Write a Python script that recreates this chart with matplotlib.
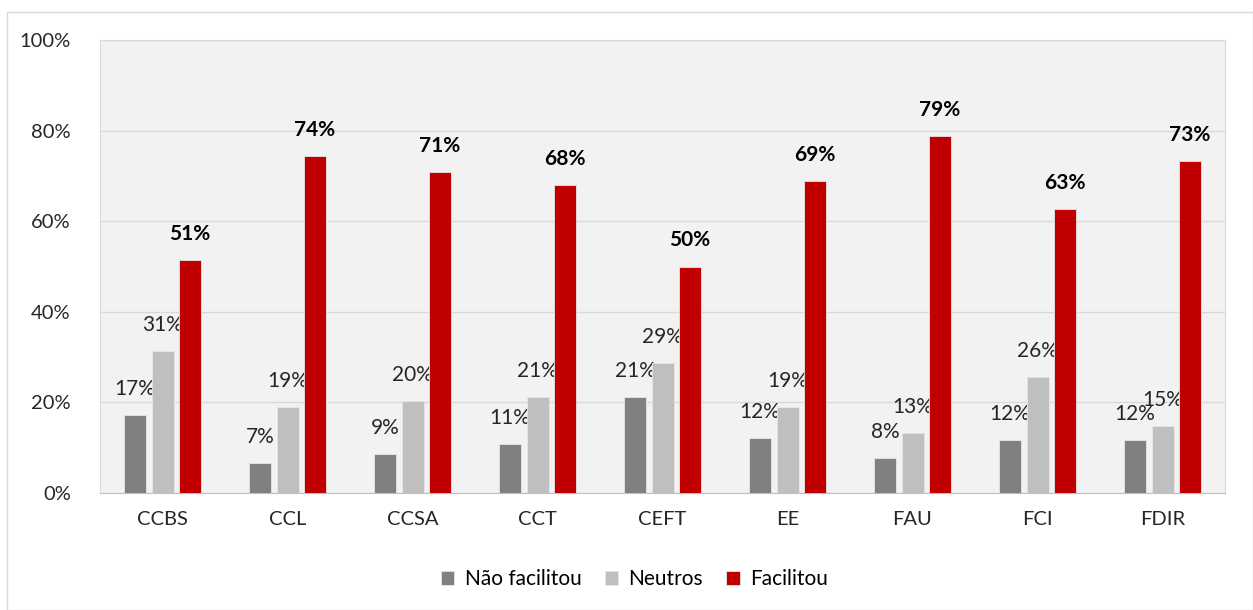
import numpy as np
import matplotlib.pyplot as plt
from matplotlib.patches import Rectangle

plt.rcParams['font.family'] = ['Lato', 'DejaVu Sans']

categories = ['CCBS', 'CCL', 'CCSA', 'CCT', 'CEFT', 'EE', 'FAU', 'FCI', 'FDIR']
nao_facilitou = [17.2, 6.6, 8.6, 10.8, 21.3, 12.1, 7.8, 11.6, 11.8]
neutros = [31.3, 19.0, 20.2, 21.1, 28.6, 18.9, 13.3, 25.5, 14.7]
facilitou = [51.4, 74.3, 70.9, 68.1, 50.0, 68.8, 78.8, 62.8, 73.3]
series_names = ['Não facilitou', 'Neutros', 'Facilitou']
colors = ['#808080', '#bfbfbf', '#c00000']

fig = plt.figure(figsize=(12.53, 6.10), dpi=100)
fig.patches.append(Rectangle((7 / 1253, 0), 1 - 7 / 1253, 1 - 12 / 610,
                             transform=fig.transFigure, fill=False,
                             edgecolor='#d9d9d9', linewidth=1))
ax = fig.add_axes([100 / 1253, 1 - 493 / 610, 1125 / 1253, 453 / 610])
ax.set_facecolor('#f2f2f2')

x = np.arange(len(categories))
w = 0.176
step = 0.22
for i, (vals, col) in enumerate(zip([nao_facilitou, neutros, facilitou], colors)):
    pos = x + (i - 1) * step
    ax.bar(pos, vals, width=w, color=col, edgecolor='#e6e6e6', linewidth=0.6,
           label=series_names[i], zorder=3)
    for p, v in zip(pos, vals):
        ax.annotate(f'{round(v):.0f}%', (p, v), xytext=(0, 16), textcoords='offset pixels',
                    ha='center', va='bottom', fontsize=15, color='#262626' if i < 2 else 'black',
                    fontweight='bold' if i == 2 else 'normal')

ax.set_xlim(-0.5, len(categories) - 0.5)
ax.set_ylim(0, 100)
ax.set_yticks(range(0, 101, 20))
ax.set_yticklabels([f'{t}%' for t in range(0, 101, 20)])
ax.set_xticks(x)
ax.set_xticklabels(categories)
ax.tick_params(axis='both', length=0, labelsize=14.5, colors='#262626')
ax.tick_params(axis='y', pad=21)
ax.tick_params(axis='x', pad=13)
ax.grid(axis='y', color='#d9d9d9', linewidth=1, zorder=0)
for s in ['top', 'right', 'left']:
    ax.spines[s].set_color('#d9d9d9')
ax.spines['bottom'].set_color('#bfbfbf')

ax.legend(loc='center', bbox_to_anchor=(0.475, -0.19), ncol=3, frameon=False,
          fontsize=15, handlelength=0.65, handleheight=0.65, columnspacing=1.1,
          handletextpad=0.5)

fig.savefig('out.png', dpi=100)
